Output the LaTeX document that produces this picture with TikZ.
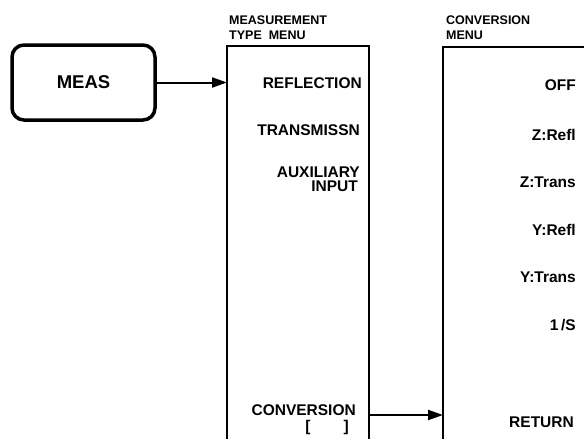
\documentclass[tikz,border=0pt]{standalone}
\usepackage{fontspec}
\setmainfont{Liberation Sans}
\usetikzlibrary{arrows.meta}
\begin{document}
\begin{tikzpicture}[x=1pt,y=-1pt,
  hdr/.style={anchor=base west,inner sep=0pt,font=\fontsize{12.5}{14}\selectfont\bfseries},
  item/.style={anchor=base east,inner sep=0pt,font=\fontsize{15.5}{18}\selectfont\bfseries},
  menuline/.style={line width=2.2pt},
  conn/.style={line width=2pt,-{Triangle[length=15pt,width=10pt]}},
  keybox/.style={draw,line width=3.5pt,rounded corners=12pt,minimum width=143pt,minimum height=75pt,inner sep=0pt,font=\fontsize{18.5}{20}\selectfont\bfseries}]
\useasboundingbox (0,0) rectangle (584,439);
% key
\node[keybox] (meas) at (83.5,82.5) {MEAS};
% measurement type menu
\coordinate (m1bl) at (227,439);
\coordinate (m1tl) at (227,46);
\coordinate (m1tr) at (369,46);
\coordinate (m1br) at (369,439);
\draw[menuline] (m1bl) -- (m1tl) -- (m1tr) -- (m1br);
\node[hdr] (h1a) at (229,24) {MEASUREMENT};
\node[hdr] (h1b) at (229,39) {TYPE\ \ MENU};
\node[item] (refl) at (362,88) {REFLECTION};
\node[item] (trans) at (360,135) {TRANSMISSN};
\node[item] (aux) at (360,177) {AUXILIARY};
\node[item] (inp) at (358,191) {INPUT};
\node[item] (conv) at (356,415) {CONVERSION};
\node[item] (brk) at (349,431) {[\hspace{33pt}]};
% conversion menu
\coordinate (m2bl) at (443,439);
\coordinate (m2tl) at (443,47);
\coordinate (m2tr) at (584,47);
\draw[menuline] (m2bl) -- (m2tl) -- (m2tr);
\node[hdr] (h2a) at (446,24) {CONVERSION};
\node[hdr] (h2b) at (446,39) {MENU};
\node[item] (off) at (576,90) {OFF};
\node[item] (zr) at (576,140) {Z:Refl};
\node[item] (zt) at (576,187) {Z:Trans};
\node[item] (yr) at (576,235) {Y:Refl};
\node[item] (yt) at (576,282) {Y:Trans};
\node[item] (s1) at (576,330) {1\,/S};
\node[item] (ret) at (574,427) {RETURN};
% connectors
\coordinate (a1) at (227,82.5);
\coordinate (a2s) at (369,415);
\coordinate (a2e) at (443,415);
\draw[conn] (meas.east) -- (a1);
\draw[conn] (a2s) -- (a2e);
\end{tikzpicture}
\end{document}
